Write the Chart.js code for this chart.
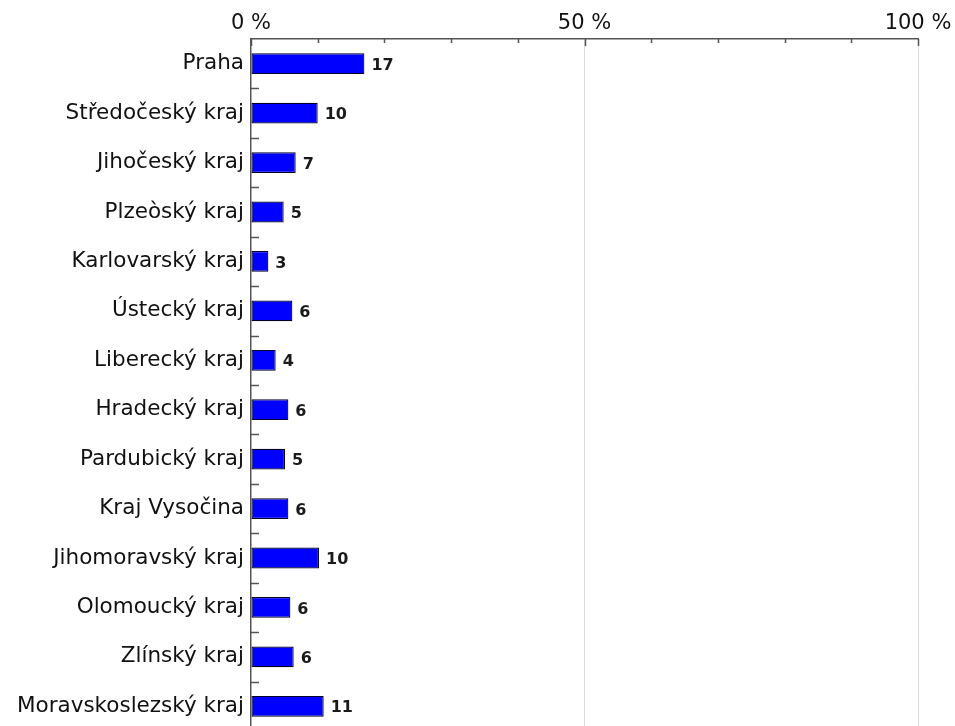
<!DOCTYPE html>
<html>
<head>
<meta charset="utf-8">
<script src="https://cdn.jsdelivr.net/npm/chart.js@4.4.0/dist/chart.umd.min.js"></script>
<style>
  html, body { margin: 0; padding: 0; background: #fff; overflow: hidden; }
  #wrap { width: 955px; height: 731px; }
</style>
</head>
<body>
<div id="wrap"><canvas id="chart" width="955" height="731"></canvas></div>
<script>
  const regions = [
    'Praha', 'Středočeský kraj', 'Jihočeský kraj', 'Plzeòský kraj', 'Karlovarský kraj',
    'Ústecký kraj', 'Liberecký kraj', 'Hradecký kraj', 'Pardubický kraj', 'Kraj Vysočina',
    'Jihomoravský kraj', 'Olomoucký kraj', 'Zlínský kraj', 'Moravskoslezský kraj'
  ];
  const shares = [17.0, 10.0, 6.7, 4.9, 2.6, 6.2, 3.7, 5.6, 5.1, 5.6, 10.2, 5.9, 6.4, 10.9];
  const shareLabels = ['17', '10', '7', '5', '3', '6', '4', '6', '5', '6', '10', '6', '6', '11'];
  const percentTicks = [0, 50, 100];

  const axisColor = '#555';

  // value labels right of each bar
  const valueLabels = {
    id: 'valueLabels',
    afterDatasetsDraw(chart) {
      const ctx = chart.ctx;
      const meta = chart.getDatasetMeta(0);
      ctx.save();
      ctx.font = 'bold 16px "DejaVu Sans"';
      ctx.fillStyle = '#1a1a1a';
      ctx.textBaseline = 'middle';
      ctx.textAlign = 'left';
      meta.data.forEach((bar, i) => {
        ctx.fillText(shareLabels[i], bar.x + 7, bar.y + 2);
      });
      ctx.restore();
    }
  };

  // short tick marks pointing into the plot
  const innerTicks = {
    id: 'innerTicks',
    afterDraw(chart) {
      const ctx = chart.ctx;
      const xs = chart.scales.x;
      const ys = chart.scales.y;
      const area = chart.chartArea;
      const step = ys.getPixelForTick(1) - ys.getPixelForTick(0);
      ctx.save();
      ctx.strokeStyle = axisColor;
      ctx.lineWidth = 1.5;
      ctx.beginPath();
      xs.ticks.forEach(t => {
        const px = Math.round(xs.getPixelForValue(t.value)) + 0.5;
        const len = percentTicks.includes(t.value) ? 7 : 4;
        ctx.moveTo(px, area.top);
        ctx.lineTo(px, area.top + len);
      });
      for (let i = 0; i < regions.length; i++) {
        const py = Math.round(ys.getPixelForTick(i) + step / 2) + 0.5;
        ctx.moveTo(area.left, py);
        ctx.lineTo(area.left + 8, py);
      }
      ctx.stroke();
      ctx.restore();
    }
  };

  new Chart(document.getElementById('chart'), {
    type: 'bar',
    data: {
      labels: regions,
      datasets: [{
        data: shares,
        backgroundColor: '#0000ff',
        borderColor: '#000022',
        borderWidth: 1.2,
        borderSkipped: false,
        barPercentage: 0.42,
        categoryPercentage: 1
      }]
    },
    options: {
      indexAxis: 'y',
      responsive: false,
      animation: false,
      layout: { padding: { right: 37, left: 0, top: 0, bottom: 0 } },
      plugins: {
        legend: { display: false },
        tooltip: { enabled: false }
      },
      scales: {
        x: {
          position: 'top',
          min: 0,
          max: 100,
          afterFit(scale) { scale.height = 39; },
          ticks: {
            stepSize: 10,
            autoSkip: false,
            maxRotation: 0,
            padding: 3,
            color: '#111',
            font: { family: 'DejaVu Sans', size: 21 },
            callback: v => percentTicks.includes(v) ? v + ' %' : ''
          },
          grid: {
            drawTicks: false,
            color: c => (c.tick && c.tick.value > 0 && percentTicks.includes(c.tick.value)) ? '#d9d9d9' : 'rgba(0,0,0,0)',
            lineWidth: 1
          },
          border: { display: true, color: axisColor, width: 1.5 }
        },
        y: {
          afterFit(scale) {
            scale.width = 251;
            scale.paddingTop = 0;
            scale.paddingBottom = 0;
          },
          ticks: {
            padding: 7,
            color: '#111',
            font: { family: 'DejaVu Sans', size: 21.5 }
          },
          grid: { display: false, drawTicks: false },
          border: { display: true, color: axisColor, width: 1.5 }
        }
      }
    },
    plugins: [valueLabels, innerTicks]
  });
</script>
</body>
</html>
